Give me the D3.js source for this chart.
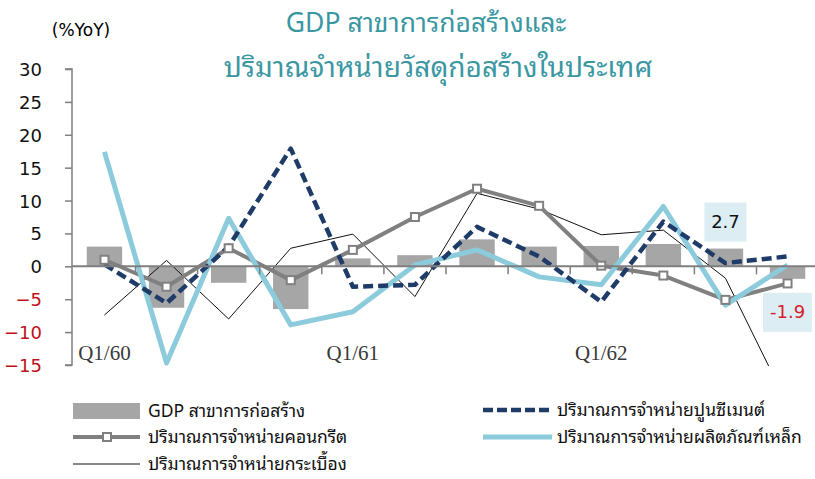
<!DOCTYPE html>
<html><head><meta charset="utf-8">
<script src="https://cdn.jsdelivr.net/npm/d3@7"></script>
<style>
html,body{margin:0;padding:0;background:#fff;overflow:hidden}
svg{display:block}
</style></head>
<body><svg id="c" width="815" height="479"></svg>
<script>
const categories = ["Q1/60","Q2/60","Q3/60","Q4/60","Q1/61","Q2/61","Q3/61","Q4/61","Q1/62","Q2/62","Q3/62","Q4/62"];
const xLabels = {"Q1/60":"Q1/60","Q1/61":"Q1/61","Q1/62":"Q1/62"};
const gdpConstruction = [3.0,-6.3,-2.5,-6.5,1.2,1.7,4.1,3.0,3.1,3.4,2.7,-1.9];
const concrete = [1.0,-3.1,2.75,-2.1,2.5,7.5,11.8,9.2,0.1,-1.4,-5.1,-2.6];
const cement = [0.3,-5.6,3.0,17.9,-3.1,-2.8,6.0,1.5,-5.4,6.8,0.5,1.5];
const steel = [17.4,-14.7,7.3,-8.9,-6.9,0.2,2.5,-1.6,-2.8,9.1,-5.9,0.2];
const tiles = [-7.4,0.9,-8.0,2.75,4.9,-4.6,11.1,8.7,4.8,5.5,-1.8,-21.0];
const yTicks = [30,25,20,15,10,5,0,-5,-10,-15];
const titleLines = ["GDP สาขาการก่อสร้างและ","ปริมาณจำหน่ายวัสดุก่อสร้างในประเทศ"];
const unitLabel = "(%YoY)";
const seriesNames = {
  gdp:"GDP สาขาการก่อสร้าง",
  concrete:"ปริมาณการจำหน่ายคอนกรีต",
  tiles:"ปริมาณการจำหน่ายกระเบื้อง",
  cement:"ปริมาณการจำหน่ายปูนซีเมนต์",
  steel:"ปริมาณการจำหน่ายผลิตภัณฑ์เหล็ก"
};

const svg = d3.select("#c");
const thaiFont = "'Noto Sans Thai Looped','Noto Sans Thai','Noto Sans','DejaVu Sans',sans-serif";
const x = d3.scaleBand().domain(categories).range([73.4, 818.6]).paddingInner(0.43).paddingOuter(0.215);
const cx = d => x(d) + x.bandwidth()/2;
const y = d3.scaleLinear().domain([-15,30]).range([365,69]);

// title
svg.selectAll("text.title").data(titleLines).join("text")
  .attr("x",(d,i)=>i?438:426).attr("y",(d,i)=>i?77:32).attr("text-anchor","middle")
  .attr("font-family",thaiFont).attr("font-size",(d,i)=>i?28:26.5).attr("fill","#3a97a2").text(d=>d);
svg.append("text").attr("x",81).attr("y",36).attr("text-anchor","middle")
  .attr("font-family","'DejaVu Sans',sans-serif").attr("font-size",17).attr("fill","#000").text(unitLabel);

// clip
svg.append("defs").append("clipPath").attr("id","plot").append("rect")
  .attr("x",72).attr("y",y(30)-2).attr("width",745).attr("height",y(-15)-y(30)+3);

// y axis
const yAxis = d3.axisLeft(y).tickValues(yTicks).tickSize(7).tickPadding(23);
const ya = svg.append("g").attr("transform","translate(72,0)").call(yAxis);
ya.select(".domain").attr("stroke","#7f7f7f").attr("stroke-width",1.5).attr("d",`M-7,${y(30)}H0V${y(-15)}H-7`);
ya.selectAll(".tick line").attr("stroke","#7f7f7f").attr("stroke-width",1.5);
ya.selectAll(".tick text").attr("font-family","'DejaVu Sans',sans-serif").attr("font-size",18)
  .attr("fill",d=>d<0?"#c0101a":"#111").attr("dy","0.36em").attr("x",-30);

const g = svg.append("g").attr("clip-path","url(#plot)");

// bars
g.selectAll("rect.bar").data(categories).join("rect")
  .attr("x",d=>x(d)).attr("width",x.bandwidth())
  .attr("y",(d,i)=>y(Math.max(0,gdpConstruction[i])))
  .attr("height",(d,i)=>Math.abs(y(gdpConstruction[i])-y(0)))
  .attr("fill","#a6a6a6");

// zero line & category ticks
const xAxis = d3.axisBottom(x).tickSize(0).tickFormat("");
const xa = svg.append("g").attr("transform",`translate(0,${y(0)})`).call(xAxis);
xa.select(".domain").attr("stroke","#7f7f7f").attr("stroke-width",2).attr("d","M72,0H815");
const bounds = categories.slice(1).map(c => x(c) - x.step()*x.paddingInner()/2);
svg.selectAll("line.xt").data(bounds).join("line")
  .attr("x1",d=>d).attr("x2",d=>d).attr("y1",y(0)).attr("y2",y(0)+8)
  .attr("stroke","#7f7f7f").attr("stroke-width",1.5);

// x labels
svg.selectAll("text.xl").data(categories.filter(c=>xLabels[c])).join("text")
  .attr("x",d=>cx(d)).attr("y",360).attr("text-anchor","middle")
  .attr("font-family","'Liberation Serif','DejaVu Serif',serif").attr("font-size",21).attr("fill","#3a3a3a")
  .text(d=>xLabels[d]);

const line = vals => d3.line().x((d,i)=>cx(categories[i])).y(d=>y(d))(vals);

// tiles
g.append("path").attr("d",line(tiles)).attr("fill","none").attr("stroke","#111").attr("stroke-width",1);
// concrete
g.append("path").attr("d",line(concrete)).attr("fill","none").attr("stroke","#808080").attr("stroke-width",4).attr("stroke-linejoin","round");
// steel
g.append("path").attr("d",line(steel)).attr("fill","none").attr("stroke","#8ccbdc").attr("stroke-width",5).attr("stroke-linejoin","round");
// cement
g.append("path").attr("d",line(cement)).attr("fill","none").attr("stroke","#1f3b68").attr("stroke-width",4.5)
  .attr("stroke-dasharray","10,5").attr("stroke-linejoin","round");
// concrete markers
g.selectAll("rect.mk").data(concrete).join("rect")
  .attr("x",(d,i)=>cx(categories[i])-4).attr("y",d=>y(d)-4).attr("width",8).attr("height",8)
  .attr("fill","#fff").attr("stroke","#808080").attr("stroke-width",2);

// annotations
const ann = [
  {i:10, v:gdpConstruction[10], cy:y(gdpConstruction[10])-27, color:"#111"},
  {i:11, v:gdpConstruction[11], cy:y(gdpConstruction[11])+33, color:"#d81e28"}
];
ann.forEach(a=>{
  const c = cx(categories[a.i]);
  const w = a.v<0?49:42;
  svg.append("rect").attr("x",c-w/2).attr("y",a.cy-19).attr("width",w).attr("height",39).attr("fill","#dcedf4");
  svg.append("text").attr("x",c).attr("y",a.cy).attr("dy","0.36em").attr("text-anchor","middle")
    .attr("font-family","'DejaVu Sans',sans-serif").attr("font-size",18).attr("fill",a.color).text(a.v.toFixed(1));
});

// legend
const lf = {"font-family":thaiFont,"font-size":17.5,"fill":"#111"};
function ltext(xx,yy,t){const e=svg.append("text").attr("x",xx).attr("y",yy).attr("dy","0.36em").text(t);for(const k in lf)e.attr(k,lf[k]);}
svg.append("rect").attr("x",73).attr("y",403).attr("width",67).attr("height",16).attr("fill","#a6a6a6");
ltext(148,411,seriesNames.gdp);
svg.append("line").attr("x1",73).attr("x2",140).attr("y1",437).attr("y2",437).attr("stroke","#808080").attr("stroke-width",4);
svg.append("rect").attr("x",103).attr("y",433).attr("width",8).attr("height",8).attr("fill","#fff").attr("stroke","#808080").attr("stroke-width",2);
ltext(148,437,seriesNames.concrete);
svg.append("line").attr("x1",73).attr("x2",140).attr("y1",464).attr("y2",464).attr("stroke","#111").attr("stroke-width",1);
ltext(148,464,seriesNames.tiles);
svg.append("line").attr("x1",483).attr("x2",552).attr("y1",410).attr("y2",410).attr("stroke","#1f3b68").attr("stroke-width",4.5).attr("stroke-dasharray","10,4");
ltext(557,410,seriesNames.cement);
svg.append("line").attr("x1",483).attr("x2",552).attr("y1",437).attr("y2",437).attr("stroke","#8ccbdc").attr("stroke-width",5);
ltext(557,437,seriesNames.steel);
</script></body></html>
